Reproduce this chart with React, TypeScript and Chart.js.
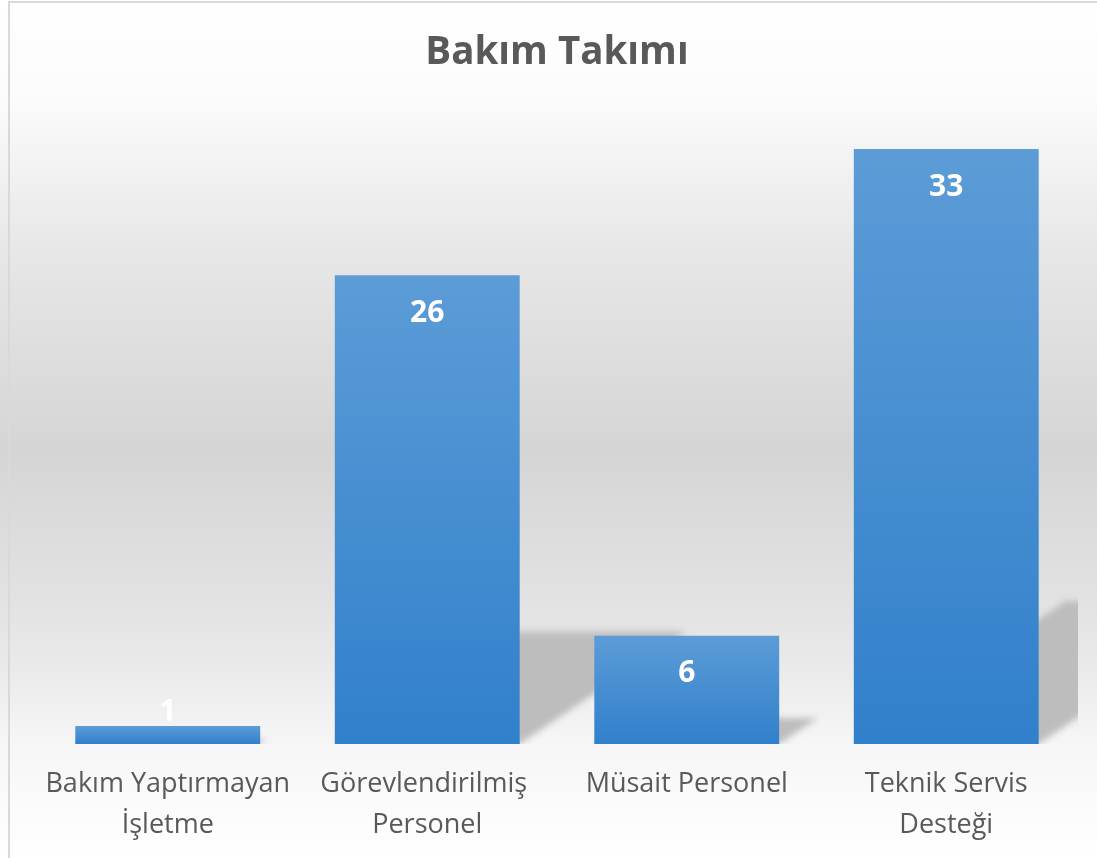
import React, { useEffect, useRef } from "react";
import { Chart, registerables } from "chart.js";

Chart.register(...registerables);

const categories: (string | string[])[] = [
  ["Bakım Yaptırmayan", "İşletme"],
  ["Görevlendirilmiş ", "Personel"],
  "Müsait Personel",
  ["Teknik Servis", "Desteği"],
];
const values: number[] = [1, 26, 6, 33];
const titleText = "Bakım Takımı";

const W = 1097;
const H = 858;

const backgroundPlugin = {
  id: "bgPlugin",
  beforeDraw(chart: any) {
    const { ctx } = chart;
    ctx.save();
    const g = ctx.createLinearGradient(0, 0, 0, H);
    g.addColorStop(0, "#ffffff");
    g.addColorStop(100 / H, "#fbfbfb");
    g.addColorStop(250 / H, "#e7e7e7");
    g.addColorStop(450 / H, "#d5d5d5");
    g.addColorStop(600 / H, "#e2e2e2");
    g.addColorStop(670 / H, "#eaeaea");
    g.addColorStop(744 / H, "#f6f6f6");
    g.addColorStop(1, "#ffffff");
    ctx.fillStyle = g;
    ctx.fillRect(0, 0, W, H);
    ctx.strokeStyle = "#d9d9d9";
    ctx.lineWidth = 2;
    ctx.beginPath();
    ctx.moveTo(9, H);
    ctx.lineTo(9, 2);
    ctx.lineTo(W, 2);
    ctx.stroke();
    ctx.restore();
  },
  beforeDatasetsDraw(chart: any) {
    const { ctx, chartArea } = chart;
    const meta = chart.getDatasetMeta(0);
    ctx.save();
    ctx.beginPath();
    ctx.rect(chartArea.left, chartArea.top - 200, chartArea.right - chartArea.left + 2, chartArea.bottom - chartArea.top + 200);
    ctx.clip();
    ctx.filter = "blur(3px)";
    ctx.fillStyle = "#bdbdbd";
    meta.data.forEach((bar: any) => {
      const p = bar.getProps(["x", "y", "base", "width"], true);
      const left = p.x - p.width / 2;
      const right = p.x + p.width / 2;
      const hBar = p.base - p.y;
      const h = hBar * 0.24;
      const dx = h * 1.48;
      ctx.beginPath();
      ctx.moveTo(left, p.base);
      ctx.lineTo(right, p.base);
      ctx.lineTo(right + dx, p.base - h);
      ctx.lineTo(left + dx, p.base - h);
      ctx.closePath();
      ctx.fill();
    });
    ctx.restore();
  },
  afterDatasetsDraw(chart: any) {
    const { ctx } = chart;
    const meta = chart.getDatasetMeta(0);
    ctx.save();
    ctx.fillStyle = "#ffffff";
    ctx.font = "bold 30px 'Open Sans'";
    ctx.textAlign = "center";
    ctx.textBaseline = "middle";
    meta.data.forEach((bar: any, i: number) => {
      const p = bar.getProps(["x", "y", "base"], true);
      const cy = Math.min(p.y + 38, p.base - 32);
      ctx.fillText(String(values[i]), p.x, cy);
    });
    ctx.restore();
  },
};

export default function App() {
  const ref = useRef<HTMLCanvasElement | null>(null);
  useEffect(() => {
    if (!ref.current) return;
    const chart = new Chart(ref.current, {
      type: "bar",
      data: {
        labels: categories as any,
        datasets: [
          {
            data: values,
            backgroundColor: (c: any) => {
              const chartObj = c.chart;
              const ys = chartObj.scales && chartObj.scales.y;
              if (!ys || c.raw === undefined) return "#4a8fd2";
              const top = ys.getPixelForValue(c.raw);
              const base = ys.getPixelForValue(0);
              if (!isFinite(top) || !isFinite(base) || top === base) return "#4a8fd2";
              const g = chartObj.ctx.createLinearGradient(0, top, 0, base);
              g.addColorStop(0, "#5c9cd7");
              g.addColorStop(1, "#3180cb");
              return g;
            },
            borderWidth: 0,
            categoryPercentage: 1,
            barPercentage: 0.7125,
          },
        ],
      },
      options: {
        responsive: false,
        animation: false,
        layout: { padding: { left: 38, right: 21, top: 0, bottom: 0 } },
        plugins: {
          legend: { display: false },
          tooltip: { enabled: false },
          title: {
            display: true,
            text: titleText,
            color: "#595959",
            font: { family: "'Open Sans'", size: 38.5, weight: "bold", lineHeight: 1.2 },
            padding: { top: 30, bottom: 18.8 },
          },
        },
        scales: {
          x: {
            grid: { display: false },
            border: { display: false },
            ticks: {
              color: "#595959",
              font: { family: "'Open Sans'", size: 27, lineHeight: 1.5 },
              maxRotation: 0,
              autoSkip: false,
              padding: 12.5,
            },
          },
          y: {
            display: false,
            min: 0,
            max: 36,
          },
        },
      },
      plugins: [backgroundPlugin],
    });
    return () => chart.destroy();
  }, []);
  return (
    <div style={{ position: "fixed", left: 0, top: 0, width: W, height: H }}>
      <canvas ref={ref} width={W} height={H} style={{ width: W, height: H, display: "block" }} />
    </div>
  );
}
